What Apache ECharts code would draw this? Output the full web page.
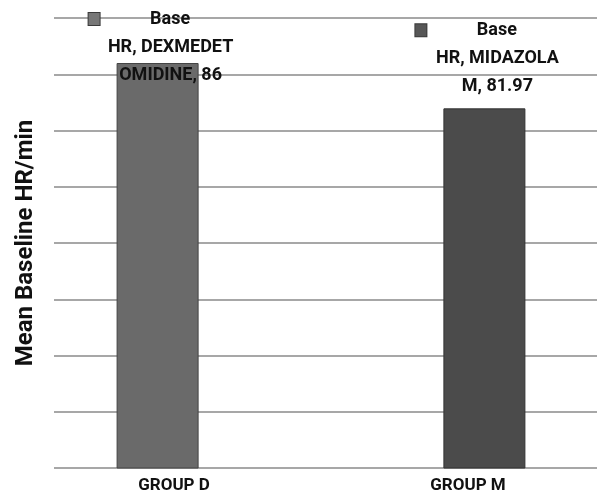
<!DOCTYPE html>
<html>
<head>
<meta charset="utf-8">
<script src="https://cdn.jsdelivr.net/npm/echarts@6/dist/echarts.min.js"></script>
<style>
  html, body { margin: 0; padding: 0; background: #fff; }
  #chart { width: 597px; height: 493px; }
</style>
</head>
<body>
<div id="chart"></div>
<script>
// data
const groups = ['GROUP D', 'GROUP M'];
const seriesNames = ['Base HR, DEXMEDETOMIDINE', 'Base HR, MIDAZOLAM'];
const dexValues = [86, '-'];
const midValues = ['-', 81.97];
// how the data labels wrap in the original
const labelLines = [
  ['Base', 'HR, DEXMEDET', 'OMIDINE'],
  ['Base', 'HR, MIDAZOLA', 'M']
];
const yMin = 50, yMax = 90, yStep = 5;

const font = 'Roboto, "DejaVu Sans", sans-serif';

function makeLabel(idx, keyColor, offsetY, dist) {
  const lines = labelLines[idx];
  return {
    show: true,
    position: 'top',
    distance: dist,
    offset: [13, offsetY],
    width: 164,
    formatter: p => '{k|}{t|' + lines[0] + '}{r|}\n{t|' + lines[1] + '}\n{t|' + lines[2] + ', ' + p.value + '}',
    rich: {
      k: { align: 'left', width: 11, height: 12, backgroundColor: keyColor, borderColor: '#3a3a3a', borderWidth: 1 },
      r: { align: 'right', width: 12 },
      t: { align: 'center', fontFamily: font, fontWeight: 'bold', fontSize: 18, color: '#111', lineHeight: 28 }
    }
  };
}

const chart = echarts.init(document.getElementById('chart'));
chart.setOption({
  animation: false,
  grid: [
    { left: 54, right: 0, top: 18, bottom: 25, outerBoundsMode: 'none' },
    { left: 27, right: -18, top: 18, bottom: 25, outerBoundsMode: 'none' }
  ],
  xAxis: [
    { gridIndex: 0, type: 'category', data: groups, show: false },
    {
      gridIndex: 1, type: 'category', data: groups,
      axisLine: { show: false }, axisTick: { show: false },
      axisLabel: { fontFamily: font, fontWeight: 'bold', fontSize: 17, color: '#111', margin: 9 }
    }
  ],
  yAxis: [
    {
      gridIndex: 0, type: 'value', min: yMin, max: yMax, interval: yStep,
      axisLabel: { show: false }, axisLine: { show: false }, axisTick: { show: false },
      splitLine: { lineStyle: { color: '#8a8a8a', width: 1.5 } },
      name: 'Mean Baseline HR/min', nameLocation: 'middle', nameGap: 16,
      nameTextStyle: { fontFamily: font, fontWeight: 'bold', fontSize: 24, color: '#111' }
    },
    { gridIndex: 1, type: 'value', min: yMin, max: yMax, interval: yStep, show: false }
  ],
  series: [
    {
      name: seriesNames[0], type: 'bar', xAxisIndex: 1, yAxisIndex: 1,
      data: dexValues, barWidth: 82, barGap: '-60%',
      itemStyle: { color: '#6a6a6a', borderColor: '#444', borderWidth: 1 },
      label: makeLabel(0, '#777', 34, 8)
    },
    {
      name: seriesNames[1], type: 'bar', xAxisIndex: 1, yAxisIndex: 1,
      data: midValues, barWidth: 82,
      itemStyle: { color: '#4b4b4b', borderColor: '#333', borderWidth: 1 },
      label: makeLabel(1, '#575757', 0, 8)
    }
  ]
});
</script>
</body>
</html>
